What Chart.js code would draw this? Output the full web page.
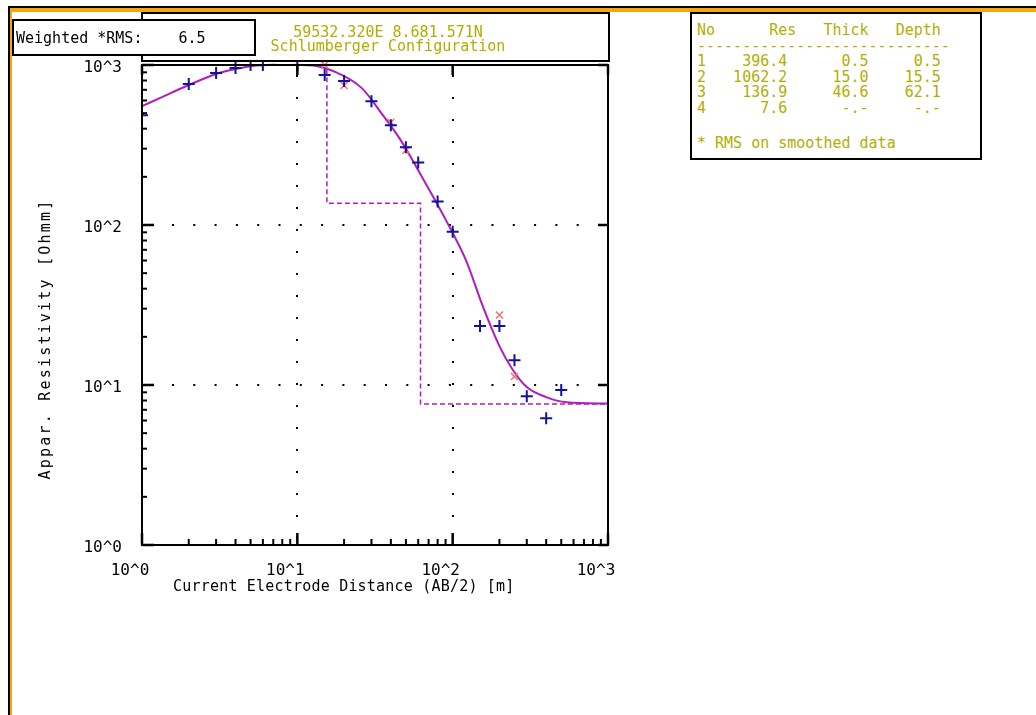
<!DOCTYPE html>
<html>
<head>
<meta charset="utf-8">
<script src="https://cdn.jsdelivr.net/npm/chart.js@4/dist/chart.umd.min.js"></script>
<style>
  body { margin: 0; background: #fff; width: 1036px; height: 715px; overflow: hidden; position: relative; font-family: "DejaVu Sans Mono", monospace; }
  #plot { position: absolute; left: 0; top: 0; }
  .line { position: absolute; }
  .box { position: absolute; box-sizing: border-box; border: 2px solid #000; background: #fff; }
  .txt { position: absolute; font-size: 15px; line-height: 14px; white-space: pre; color: #000; }
  .olive { color: #b3ad00; }
</style>
</head>
<body>
<canvas id="plot" width="1036" height="715"></canvas>

<div class="line" style="left:8px;top:6px;width:1028px;height:2px;background:#000"></div>
<div class="line" style="left:10px;top:8px;width:1026px;height:4px;background:#f4a70f"></div>
<div class="line" style="left:8px;top:6px;width:2px;height:709px;background:#000"></div>
<div class="line" style="left:10px;top:8px;width:2px;height:707px;background:#f4a70f"></div>

<div class="box" style="left:141px;top:12px;width:469px;height:50px"></div>
<div class="txt olive" id="title" style="left:240px;top:25px;width:296px;text-align:center"></div>

<div class="box" style="left:12px;top:19px;width:244px;height:37px"></div>
<div class="txt" id="rms" style="left:16px;top:31px"></div>

<div class="box" style="left:690px;top:12px;width:292px;height:148px"></div>
<div class="txt olive" id="table" style="left:697px;top:23px;line-height:15.5px"></div>
<div class="txt olive" id="note" style="left:697px;top:136px;line-height:15.5px"></div>

<div class="txt" id="ytitle" style="left:-105px;top:331px;width:300px;height:16px;line-height:16px;text-align:center;letter-spacing:2.2px;transform:rotate(-90deg)"></div>
<div class="txt" id="xtitle" style="left:173px;top:579px;letter-spacing:0.2px"></div>

<script>
// header texts
const coordText = '59532.320E 8.681.571N';
const configText = 'Schlumberger Configuration';
const weightedRms = 6.5;
const xTitle = 'Current Electrode Distance (AB/2) [m]';
const yTitle = 'Appar. Resistivity [Ohmm]';

// axes
const xDecades = [1, 10, 100, 1000];
const xTickLabels = ['10^0', '10^1', '10^2', '10^3'];
const yDecades = [1, 10, 100, 1000];
const yTickLabels = ['10^0', '10^1', '10^2', '10^3'];

// field data (blue +)
const abHalf = [1, 2, 3, 4, 5, 6, 10, 15, 20, 30, 40, 50, 60, 80, 100, 150, 200, 250, 300, 400, 500];
const rhoObs = [485, 760, 891, 957, 1000, 1000, 1000, 865, 794, 594, 420, 306, 246, 140, 90.8, 23.4, 23.4, 14.3, 8.5, 6.2, 9.3];

// smoothed data (red x)
const smoothAb = [15, 20, 40, 50, 200, 250];
const smoothRho = [1000, 745, 438, 293, 27.4, 11.3];

// model response curve
const curveAb = [1, 1.3, 2, 3, 4, 5.3, 7, 10, 13, 17, 26, 35.5, 45.5, 68, 93, 123, 156, 200, 243, 300, 400, 540, 1000];
const curveRho = [553, 621, 750, 879, 944, 990, 1005, 1005, 990, 917, 717, 486, 348, 177, 102, 58.9, 31.2, 17.5, 12.5, 9.7, 8.4, 7.8, 7.65];

// layered model
const layerRes = [396.4, 1062.2, 136.9, 7.6];
const layerThick = [0.5, 15.0, 46.6, null];
const layerDepth = [0.5, 15.5, 62.1, null];

const magenta = '#b01cc0';
const olive = '#b3ad00';

// text boxes
document.getElementById('title').textContent = coordText + '\n' + configText;
document.getElementById('rms').textContent = 'Weighted *RMS:    ' + weightedRms.toFixed(1);
document.getElementById('xtitle').textContent = xTitle;
document.getElementById('ytitle').textContent = yTitle;

const fmt = v => v == null ? '-.-' : v.toFixed(1);
let rows = ['No      Res   Thick   Depth', '-'.repeat(28)];
layerRes.forEach((r, i) => {
  rows.push(String(i + 1) + fmt(r).padStart(9) + fmt(layerThick[i]).padStart(9) + fmt(layerDepth[i]).padStart(8));
});
document.getElementById('table').textContent = rows.join('\n');
document.getElementById('note').textContent = '* RMS on smoothed data';

// step model from layers
const stepPts = [];
let topDepth = 0.1;
layerRes.forEach((r, i) => {
  const bottom = layerDepth[i] == null ? 1000 : layerDepth[i];
  stepPts.push({x: topDepth, y: r}, {x: bottom, y: r});
  topDepth = bottom;
});

const toPts = (xs, ys) => xs.map((x, i) => ({x: x, y: ys[i]}));

function decadeLabel(v, decades, labels) {
  const i = decades.indexOf(v);
  return i >= 0 ? labels[i] : '';
}

const frameTicks = {
  id: 'frameTicks',
  afterDatasetsDraw(chart) {
    const {ctx, chartArea: a} = chart;
    const xs = chart.scales.x, ys = chart.scales.y;
    const mark = (x1, y1, x2, y2, w) => {
      ctx.lineWidth = w;
      ctx.beginPath(); ctx.moveTo(x1, y1); ctx.lineTo(x2, y2); ctx.stroke();
    };
    ctx.save();
    ctx.strokeStyle = '#000';
    ctx.lineWidth = 2;
    ctx.strokeRect(a.left, a.top, a.right - a.left, a.bottom - a.top);
    xDecades.forEach((d, i) => {
      const px = xs.getPixelForValue(d);
      mark(px, a.bottom, px, a.bottom - 12, 2.5);
      mark(px, a.top, px, a.top + 10, 2.5);
      if (i < xDecades.length - 1) {
        for (let m = 2; m <= 9; m++) {
          const p = xs.getPixelForValue(m * d);
          mark(p, a.bottom, p, a.bottom - 6, 2);
        }
      }
    });
    yDecades.forEach((d, i) => {
      const py = ys.getPixelForValue(d);
      mark(a.left, py, a.left + 12, py, 2.5);
      mark(a.right, py, a.right - 10, py, 2.5);
      if (i < yDecades.length - 1) {
        for (let m = 2; m <= 9; m++) {
          const p = ys.getPixelForValue(m * d);
          mark(a.left, p, a.left + 5, p, 2);
        }
      }
    });
    ctx.restore();
  }
};

const tickFont = {family: 'DejaVu Sans Mono', size: 16};

new Chart(document.getElementById('plot'), {
  type: 'scatter',
  data: {
    datasets: [
      {
        label: 'observed',
        data: toPts(abHalf, rhoObs),
        pointStyle: 'cross',
        pointRadius: 6,
        borderColor: '#1212a0',
        borderWidth: 2,
        clip: {left: 0, top: 6, right: 6, bottom: 6},
        order: 0
      },
      {
        label: 'smoothed',
        data: toPts(smoothAb, smoothRho),
        pointStyle: 'crossRot',
        pointRadius: 5,
        borderColor: '#ff6a6a',
        borderWidth: 1.5,
        clip: {left: 0, top: 6, right: 6, bottom: 6},
        order: 1
      },
      {
        label: 'fit',
        type: 'line',
        data: toPts(curveAb, curveRho),
        borderColor: magenta,
        borderWidth: 2,
        pointRadius: 0,
        fill: false,
        cubicInterpolationMode: 'monotone',
        clip: 2,
        order: 2
      },
      {
        label: 'model',
        type: 'line',
        data: stepPts,
        borderColor: magenta,
        borderWidth: 1.5,
        borderDash: [5, 3],
        pointRadius: 0,
        fill: false,
        tension: 0,
        clip: 0,
        order: 3
      }
    ]
  },
  options: {
    responsive: false,
    devicePixelRatio: 1,
    animation: false,
    layout: {padding: {left: 82, right: 428, top: 65, bottom: 130}},
    plugins: {legend: {display: false}, tooltip: {enabled: false}},
    scales: {
      x: {
        type: 'logarithmic',
        min: 1,
        max: 1000,
        afterBuildTicks: s => { s.ticks = xDecades.map(v => ({value: v})); },
        afterFit: s => { s.height = 40; },
        ticks: {
          callback: v => decadeLabel(v, xDecades, xTickLabels),
          autoSkip: false, maxRotation: 0, minRotation: 0,
          padding: 16, labelOffset: -12,
          color: '#000', font: tickFont
        },
        grid: {
          color: c => (c.tick && c.tick.value > 1 && c.tick.value < 1000) ? '#000' : 'rgba(0,0,0,0)',
          lineWidth: 2,
          drawTicks: false
        },
        border: {display: false, dash: [2, 20], dashOffset: 12}
      },
      y: {
        type: 'logarithmic',
        min: 1,
        max: 1000,
        afterBuildTicks: s => { s.ticks = yDecades.map(v => ({value: v})); },
        afterFit: s => { s.width = 60; },
        ticks: {
          callback: v => decadeLabel(v, yDecades, yTickLabels),
          autoSkip: false,
          padding: 20, labelOffset: 3,
          color: '#000', font: tickFont
        },
        grid: {
          color: c => (c.tick && c.tick.value > 1 && c.tick.value < 1000) ? '#000' : 'rgba(0,0,0,0)',
          lineWidth: 2,
          drawTicks: false
        },
        border: {display: false, dash: [2, 19.3], dashOffset: 12.6}
      }
    }
  },
  plugins: [frameTicks]
});
</script>
</body>
</html>
